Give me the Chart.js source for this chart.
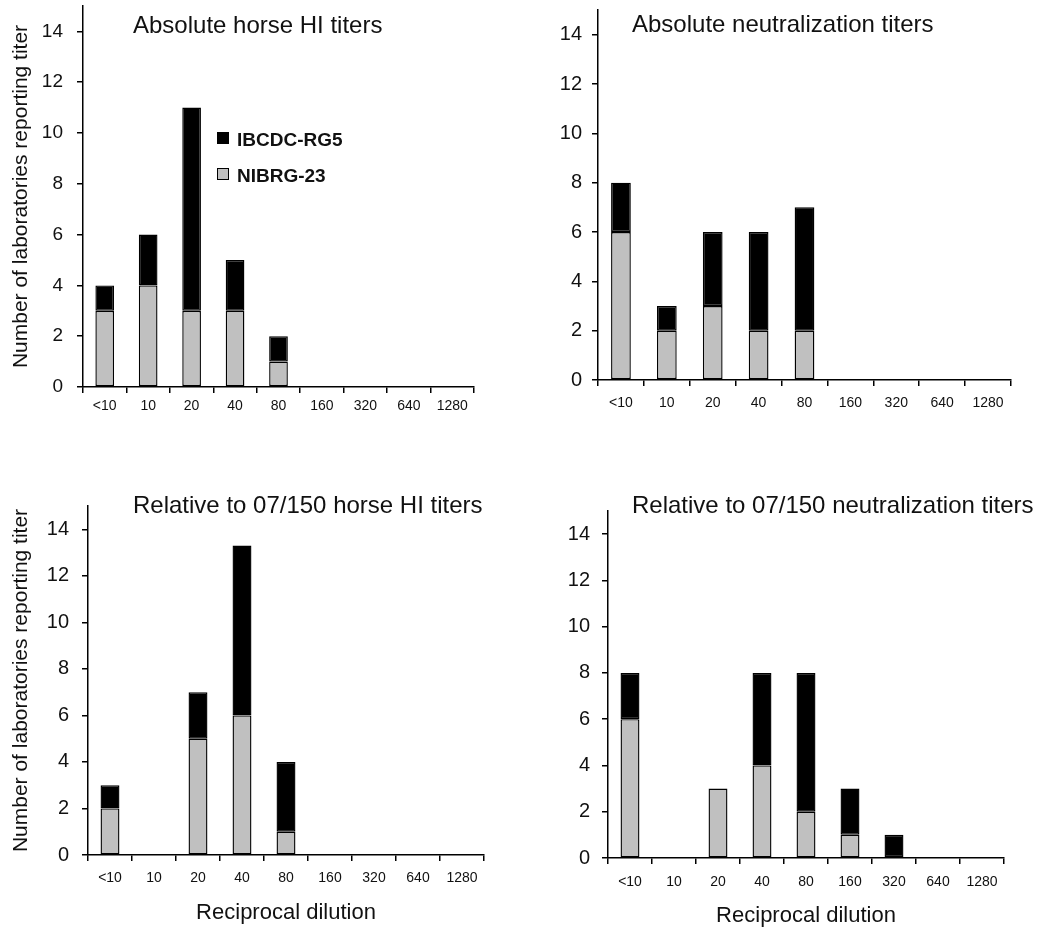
<!DOCTYPE html>
<html>
<head>
<meta charset="utf-8">
<script src="https://cdn.jsdelivr.net/npm/chart.js@4.4.0/dist/chart.umd.min.js"></script>
<style>
  body { margin:0; background:#fff; width:1038px; height:932px; position:relative; overflow:hidden;
         font-family:"Liberation Sans", Arial, sans-serif; }
  canvas { position:absolute; }
  .ptitle { position:absolute; font-size:24px; line-height:24px; color:#111; white-space:nowrap; }
  .leg { position:absolute; font-size:19px; line-height:19px; font-weight:bold; color:#111; white-space:nowrap; }
  .sw { position:absolute; width:10px; height:10px; border:1px solid #000; }
</style>
</head>
<body>
<canvas id="c1" width="519" height="450" style="left:0;top:0"></canvas>
<canvas id="c2" width="519" height="450" style="left:519px;top:0"></canvas>
<canvas id="c3" width="519" height="472" style="left:0;top:460px"></canvas>
<canvas id="c4" width="519" height="472" style="left:519px;top:460px"></canvas>

<div class="ptitle" style="left:133px;top:13px">Absolute horse HI titers</div>
<div class="ptitle" style="left:632px;top:12px">Absolute neutralization titers</div>
<div class="ptitle" style="left:133px;top:493px">Relative to 07/150 horse HI titers</div>
<div class="ptitle" style="left:632px;top:493px">Relative to 07/150 neutralization titers</div>

<div class="sw" style="left:217px;top:132px;background:#000"></div>
<div class="leg" style="left:237px;top:130px">IBCDC-RG5</div>
<div class="sw" style="left:217px;top:168px;background:#c0c0c0"></div>
<div class="leg" style="left:237px;top:166px">NIBRG-23</div>

<script>
// ---- data ----
const dilutions = ['<10', '10', '20', '40', '80', '160', '320', '640', '1280'];
const yTickValues = [0, 2, 4, 6, 8, 10, 12, 14];
const seriesNames = ['NIBRG-23', 'IBCDC-RG5'];

// Absolute horse HI titers
const absHI_NIBRG = [3, 4, 3, 3, 1, 0, 0, 0, 0];
const absHI_IBCDC = [1, 2, 8, 2, 1, 0, 0, 0, 0];
// Absolute neutralization titers
const absNT_NIBRG = [6, 2, 3, 2, 2, 0, 0, 0, 0];
const absNT_IBCDC = [2, 1, 3, 4, 5, 0, 0, 0, 0];
// Relative to 07/150 horse HI titers
const relHI_NIBRG = [2, 0, 5, 6, 1, 0, 0, 0, 0];
const relHI_IBCDC = [1, 0, 2, 7.3, 3, 0, 0, 0, 0];
// Relative to 07/150 neutralization titers
const relNT_NIBRG = [6, 0, 3, 4, 2, 1, 0, 0, 0];
const relNT_IBCDC = [2, 0, 0, 4, 6, 2, 1, 0, 0];

const yTitleText = 'Number of laboratories reporting titer';
const xTitleText = 'Reciprocal dilution';

// ---- chart builder ----
const FONT = '"Liberation Sans", Arial, sans-serif';

function makeChart(id, nibrg, ibcdc, o) {
  new Chart(document.getElementById(id), {
    type: 'bar',
    data: {
      labels: dilutions,
      datasets: [
        { label: seriesNames[0], data: nibrg, backgroundColor: '#c0c0c0',
          borderColor: '#000', borderWidth: 1.4, borderSkipped: false },
        { label: seriesNames[1], data: ibcdc, backgroundColor: '#000',
          borderColor: '#000', borderWidth: 1.4, borderSkipped: false }
      ]
    },
    options: {
      responsive: false,
      animation: false,
      events: [],
      layout: { padding: { left: 0, top: o.top, right: o.right, bottom: 0 } },
      plugins: { legend: { display: false }, tooltip: { enabled: false }, title: { display: false } },
      datasets: { bar: { categoryPercentage: 1, barPercentage: 0.43 } },
      scales: {
        x: {
          stacked: true,
          offset: true,
          grid: { display: true, offset: true, drawOnChartArea: false, drawTicks: true,
                  tickLength: 6, color: '#000', lineWidth: 1.5 },
          border: { display: true, color: '#000', width: 1.5 },
          ticks: { color: '#111', font: { family: FONT, size: 14 }, padding: o.xPad,
                   maxRotation: 0, autoSkip: false },
          title: { display: !!o.xTitle, text: xTitleText, color: '#111',
                   font: { family: FONT, size: 22 }, padding: { top: 0, bottom: o.xTitlePad || 0 } },
          afterFit: s => { s.height = o.hx; s.paddingLeft = 0; s.paddingRight = 0; }
        },
        y: {
          stacked: true,
          min: 0, max: 15,
          afterBuildTicks: s => { s.ticks = yTickValues.map(v => ({ value: v })); },
          grid: { display: true, drawOnChartArea: false, drawTicks: true,
                  tickLength: 6, color: '#000', lineWidth: 1.5 },
          border: { display: true, color: '#000', width: 1.5 },
          ticks: { color: '#111', font: { family: FONT, size: o.yFont }, padding: o.yPad },
          title: { display: !!o.yTitle, text: yTitleText, color: '#111',
                   font: { family: FONT, size: 21 }, padding: { top: 9, bottom: 0 } },
          afterFit: s => { s.width = o.wy; s.paddingTop = 0; s.paddingBottom = 0; }
        }
      }
    }
  });
}

makeChart('c1', absHI_NIBRG, absHI_IBCDC, { wy: 83, top: 6, right: 45, hx: 63, yPad: 14, yFont: 19, xPad: 5, yTitle: true });
makeChart('c2', absNT_NIBRG, absNT_IBCDC, { wy: 79, top: 10, right: 27, hx: 70, yPad: 10, yFont: 20, xPad: 9 });
makeChart('c3', relHI_NIBRG, relHI_IBCDC, { wy: 88, top: 46, right: 35, hx: 77, yPad: 13, yFont: 20, xPad: 9, yTitle: true, xTitle: true, xTitlePad: 6 });
makeChart('c4', relNT_NIBRG, relNT_IBCDC, { wy: 89, top: 51, right: 34, hx: 74, yPad: 12, yFont: 20, xPad: 10, xTitle: true, xTitlePad: 3 });
</script>
</body>
</html>
